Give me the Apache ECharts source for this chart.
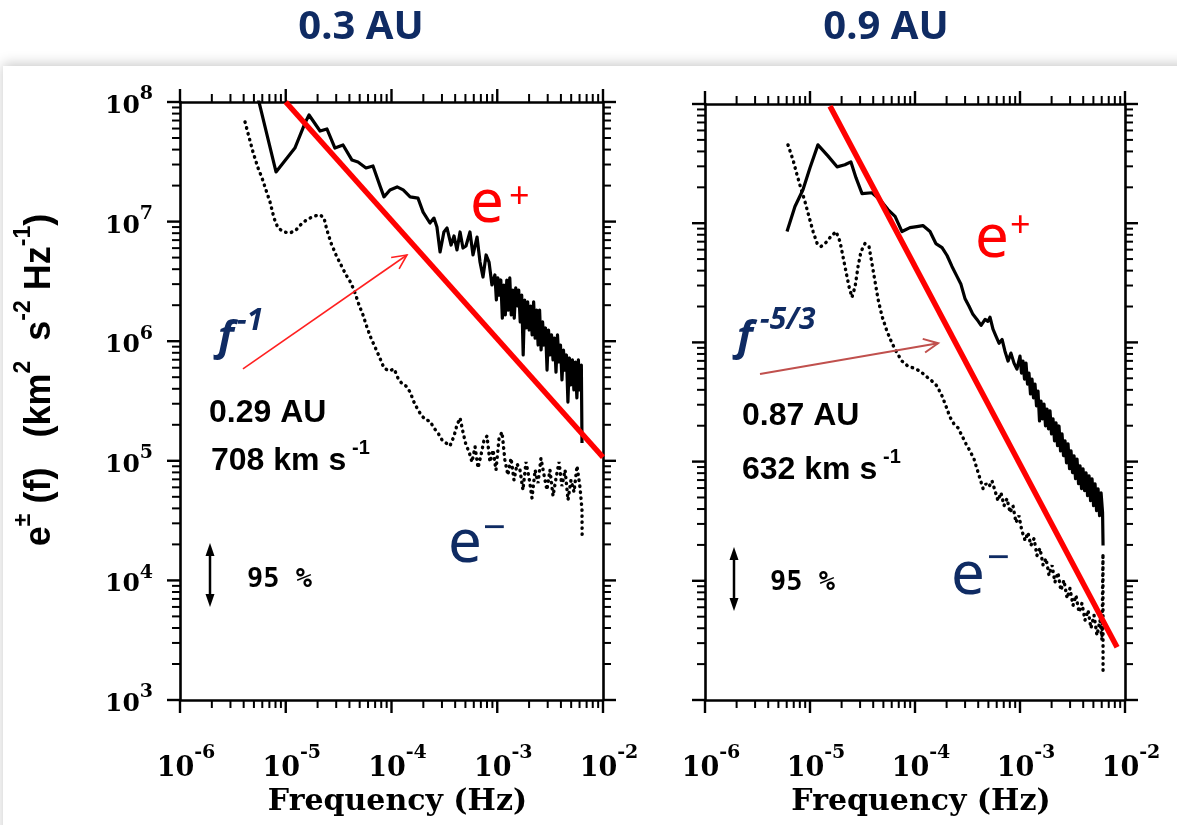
<!DOCTYPE html>
<html>
<head>
<meta charset="utf-8">
<script src="https://cdn.jsdelivr.net/npm/echarts@6/dist/echarts.min.js"></script>
<style>
html,body{margin:0;padding:0;background:#fff;}
#chart{width:1177px;height:825px;}
</style>
</head>
<body>
<div id="chart"></div>
<script>
// ---------------- DATA ----------------
const panelTitles = ['0.3 AU', '0.9 AU'];
const xMajorTicks = [1e-6, 1e-5, 1e-4, 1e-3, 1e-2];
const yMajorTicks = [1e3, 1e4, 1e5, 1e6, 1e7, 1e8];
const minorMultipliers = [2, 3, 4, 5, 6, 7, 8, 9];

// 0.3 AU panel: e+ (solid) and e- (dotted) spectra [frequency Hz, power]
const leftEPlus = [
[5.47e-6,1.08e8],[8.09e-6,2.60e7],[1.22e-5,4.12e7],[1.52e-5,6.67e7],[1.66e-5,7.79e7],[2.11e-5,5.72e7],
[2.45e-5,5.95e7],[2.92e-5,4.12e7],[3.48e-5,4.37e7],[4.23e-5,3.27e7],[4.82e-5,3.15e7],[5.74e-5,2.81e7],
[6.68e-5,2.92e7],[7.78e-5,1.99e7],[8.49e-5,1.61e7],[9.68e-5,1.84e7],[1.13e-4,1.95e7],[1.29e-4,1.84e7],
[1.50e-4,1.61e7],[1.78e-4,1.57e7],[1.99e-4,1.20e7],[2.31e-4,9.73e6],[2.52e-4,1.07e7],[2.69e-4,9.02e6],
[2.88e-4,5.57e6],[3.13e-4,8.19e6],[3.35e-4,8.84e6],[3.66e-4,6.37e6],[3.90e-4,7.59e6],[4.16e-4,5.79e6],
[4.45e-4,8.19e6],[4.74e-4,6.01e6],[5.06e-4,6.25e6],[5.52e-4,8.19e6],[5.90e-4,5.26e6],[6.44e-4,7.43e6],
[6.87e-4,4.59e6],[7.33e-4,3.44e6],[7.84e-4,5.26e6],[8.36e-4,4.59e6],[8.91e-4,2.95e6],
[9.50e-4,3.58e6],[9.81e-4,2.21e6],[1.013e-3,3.38e6],[1.047e-3,2.43e6],[1.081e-3,3.25e6],[1.117e-3,1.56e6],
[1.154e-3,2.95e6],[1.192e-3,1.66e6],[1.231e-3,3.25e6],[1.272e-3,1.82e6],[1.314e-3,3.38e6],[1.357e-3,1.66e6],
[1.402e-3,2.68e6],[1.448e-3,1.56e6],[1.496e-3,2.79e6],[1.545e-3,1.97e6],[1.596e-3,2.68e6],[1.649e-3,1.45e6],
[1.703e-3,2.43e6],[1.759e-3,7.67e5],[1.817e-3,2.21e6],[1.877e-3,1.29e6],[1.939e-3,2.13e6],[2.003e-3,1.24e6],
[2.069e-3,1.97e6],[2.137e-3,1.13e6],[2.208e-3,2.13e6],[2.281e-3,1.06e6],[2.356e-3,1.82e6],[2.434e-3,9.29e5],
[2.514e-3,1.82e6],[2.597e-3,8.44e5],[2.683e-3,1.45e6],[2.771e-3,9.29e5],[2.863e-3,1.29e6],[2.957e-3,5.74e5],
[3.055e-3,1.24e6],[3.156e-3,7.67e5],[3.260e-3,1.13e6],[3.367e-3,6.97e5],[3.478e-3,1.06e6],[3.593e-3,5.52e5],
[3.712e-3,1.13e6],[3.834e-3,6.70e5],[3.961e-3,9.29e5],[4.092e-3,4.74e5],[4.227e-3,8.44e5],[4.366e-3,5.74e5],
[4.510e-3,7.67e5],[4.659e-3,3.10e5],[4.813e-3,7.24e5],[4.972e-3,4.31e5],[5.136e-3,6.97e5],[5.305e-3,3.91e5],
[5.480e-3,6.70e5],[5.661e-3,3.35e5],[5.848e-3,6.97e5],[6.041e-3,3.91e5],[6.240e-3,6.32e5],[6.33e-3,1.41e5]
];
const leftEMinus = [
[4.12e-6,6.81e7],[4.49e-6,5.10e7],[4.90e-6,3.82e7],[5.47e-6,2.81e7],[5.96e-6,2.32e7],[6.50e-6,1.84e7],
[7.10e-6,1.46e7],[7.74e-6,1.07e7],[8.45e-6,8.84e6],[9.62e-6,8.19e6],[1.10e-5,8.03e6],[1.25e-5,8.51e6],
[1.43e-5,9.73e6],[1.62e-5,1.05e7],[1.85e-5,1.11e7],[2.11e-5,1.14e7],[2.30e-5,1.07e7],[2.45e-5,8.51e6],
[2.68e-5,6.62e6],[2.99e-5,5.26e6],[3.33e-5,4.34e6],[3.72e-5,3.58e6],[4.14e-5,3.07e6],[4.52e-5,2.53e6],
[4.93e-5,2.01e6],[5.37e-5,1.66e6],[5.86e-5,1.31e6],[6.40e-5,1.06e6],[6.98e-5,8.95e5],[7.62e-5,7.52e5],
[8.49e-5,5.97e5],[9.46e-5,5.64e5],[1.06e-4,5.86e5],[1.15e-4,4.92e5],[1.26e-4,4.39e5],[1.37e-4,4.22e5],
[1.50e-4,3.76e5],[1.63e-4,3.10e5],[1.78e-4,2.66e5],[1.94e-4,2.37e5],[2.12e-4,2.19e5],[2.31e-4,2.15e5],
[2.52e-4,1.88e5],[2.75e-4,1.71e5],[3.01e-4,1.49e5],[3.27e-4,1.41e5],[3.57e-4,1.33e5],[3.90e-4,1.61e5],
[4.16e-4,1.99e5],[4.45e-4,2.28e5],[4.74e-4,1.74e5],[5.06e-4,1.36e5],[5.41e-4,1.19e5],[5.77e-4,9.77e4],
[6.17e-4,1.31e5],[6.58e-4,8.71e4],[7.02e-4,1.12e5],[7.50e-4,1.49e5],[8.00e-4,1.61e5],[8.53e-4,9.77e4],
[9.12e-4,1.23e5],[9.73e-4,8.38e4],[1.04e-3,1.55e5],[1.11e-3,1.74e5],[1.18e-3,1.02e5],[1.26e-3,7.60e4],
[1.35e-3,1.05e5],[1.44e-3,6.90e4],[1.54e-3,9.40e4],[1.64e-3,8.38e4],[1.75e-3,5.70e4],[1.87e-3,9.77e4],
[2.00e-3,7.18e4],[2.13e-3,4.89e4],[2.28e-3,8.38e4],[2.43e-3,6.52e4],[2.59e-3,1.05e5],[2.77e-3,7.60e4],
[2.95e-3,5.70e4],[3.15e-3,8.38e4],[3.37e-3,5.08e4],[3.60e-3,7.18e4],[3.84e-3,9.77e4],[4.09e-3,6.15e4],
[4.38e-3,8.38e4],[4.67e-3,4.70e4],[4.98e-3,6.90e4],[5.32e-3,5.48e4],[5.68e-3,9.06e4],[6.07e-3,5.93e4],
[6.33e-3,3.88e4],[6.35e-3,2.31e4]
];
// 0.9 AU panel
const rightEPlus = [
[6.04e-6,8.51e6],[7.19e-6,1.38e7],[8.57e-6,1.91e7],[1.00e-5,2.92e7],[1.19e-5,4.54e7],[1.48e-5,3.67e7],
[1.81e-5,2.97e7],[2.15e-5,3.09e7],[2.45e-5,3.27e7],[2.74e-5,2.41e7],[3.13e-5,1.77e7],[3.89e-5,1.80e7],
[4.65e-5,1.57e7],[5.53e-5,1.30e7],[6.46e-5,1.14e7],[7.52e-5,8.51e6],[8.95e-5,9.19e6],[1.04e-4,9.37e6],
[1.19e-4,9.55e6],[1.39e-4,8.51e6],[1.58e-4,6.75e6],[1.81e-4,6.25e6],[2.02e-4,5.36e6],[2.25e-4,4.34e6],
[2.51e-4,3.58e6],[2.74e-4,3.07e6],[2.99e-4,2.34e6],[3.27e-4,2.01e6],[3.56e-4,1.72e6],[3.89e-4,1.56e6],
[4.26e-4,1.39e6],[4.65e-4,1.56e6],[4.95e-4,1.50e6],[5.18e-4,1.63e6],[5.53e-4,1.29e6],[5.90e-4,1.13e6],
[6.31e-4,9.84e5],[6.75e-4,1.06e6],[7.19e-4,8.44e5],[7.69e-4,6.97e5],[8.20e-4,8.13e5],[8.77e-4,6.70e5],
[9.35e-4,5.97e5],
[1.000e-3,7.67e5],[1.034e-3,5.53e5],[1.068e-3,6.97e5],[1.104e-3,4.92e5],[1.141e-3,6.70e5],[1.179e-3,4.47e5],
[1.218e-3,5.53e5],[1.259e-3,3.69e5],[1.301e-3,4.92e5],[1.345e-3,3.42e5],[1.390e-3,4.47e5],[1.436e-3,2.93e5],
[1.484e-3,3.91e5],[1.534e-3,2.19e5],[1.585e-3,3.22e5],[1.638e-3,2.28e5],[1.693e-3,3.04e5],[1.750e-3,1.99e5],
[1.808e-3,2.76e5],[1.869e-3,1.88e5],[1.931e-3,2.66e5],[1.996e-3,1.71e5],[2.063e-3,2.28e5],[2.132e-3,1.49e5],
[2.203e-3,2.11e5],[2.277e-3,1.36e5],[2.353e-3,1.99e5],[2.432e-3,1.23e5],[2.513e-3,1.71e5],[2.597e-3,1.12e5],
[2.684e-3,1.49e5],[2.774e-3,9.77e4],[2.867e-3,1.41e5],[2.963e-3,8.71e4],[3.062e-3,1.23e5],[3.165e-3,8.06e4],
[3.271e-3,1.12e5],[3.380e-3,7.18e4],[3.493e-3,1.05e5],[3.610e-3,6.52e4],[3.731e-3,9.22e4],[3.856e-3,5.92e4],
[3.985e-3,8.71e4],[4.118e-3,5.70e4],[4.256e-3,8.06e4],[4.399e-3,5.18e4],[4.546e-3,7.61e4],[4.698e-3,4.70e4],
[4.855e-3,7.18e4],[5.018e-3,4.27e4],[5.186e-3,6.52e4],[5.360e-3,3.88e4],[5.539e-3,5.92e4],[5.725e-3,3.52e4],
[5.916e-3,5.48e4],[6.114e-3,3.73e4],[6.18e-3,1.98e4]
];
const rightEMinus = [
[6.17e-6,4.54e7],[6.89e-6,3.40e7],[7.52e-6,2.55e7],[8.20e-6,1.95e7],[8.95e-6,1.52e7],[9.77e-6,1.14e7],
[1.07e-5,8.51e6],[1.17e-5,6.75e6],[1.27e-5,6.37e6],[1.42e-5,6.89e6],[1.58e-5,7.73e6],[1.77e-5,8.51e6],
[1.93e-5,7.02e6],[2.06e-5,5.26e6],[2.20e-5,3.94e6],[2.35e-5,2.95e6],[2.51e-5,2.39e6],[2.69e-5,2.95e6],
[2.87e-5,4.34e6],[3.06e-5,5.79e6],[3.34e-5,6.75e6],[3.65e-5,6.37e6],[3.89e-5,4.59e6],[4.16e-5,3.25e6],
[4.45e-5,2.30e6],[4.85e-5,1.66e6],[5.41e-5,1.24e6],[6.04e-5,9.84e5],[6.75e-5,8.13e5],[7.52e-5,6.97e5],
[8.57e-5,6.32e5],[9.77e-5,6.08e5],[1.12e-4,5.74e5],[1.27e-4,5.21e5],[1.45e-4,4.74e5],[1.62e-4,4.31e5],
[1.81e-4,3.55e5],[1.97e-4,2.93e5],[2.15e-4,2.37e5],[2.35e-4,2.07e5],[2.57e-4,1.92e5],[2.81e-4,1.64e5],
[3.06e-4,1.41e5],[3.34e-4,1.23e5],[3.65e-4,1.05e5],[3.89e-4,8.71e4],[4.16e-4,7.18e4],[4.45e-4,5.93e4],
[4.74e-4,6.52e4],[5.07e-4,6.15e4],[5.41e-4,6.90e4],[5.78e-4,5.70e4],[6.17e-4,4.70e4],[6.59e-4,5.48e4],
[7.05e-4,4.27e4],[7.52e-4,4.89e4],[8.04e-4,3.73e4],[8.57e-4,4.27e4],[9.16e-4,3.08e4],[9.77e-4,3.52e4],
[1.04e-3,2.64e4],[1.12e-3,2.18e4],[1.19e-3,2.54e4],[1.27e-3,1.98e4],[1.36e-3,2.26e4],[1.45e-3,1.63e4],
[1.55e-3,1.87e4],[1.66e-3,1.35e4],[1.77e-3,1.54e4],[1.89e-3,1.11e4],[2.02e-3,1.35e4],[2.15e-3,9.70e3],
[2.30e-3,1.17e4],[2.45e-3,8.32e3],[2.62e-3,1.01e4],[2.81e-3,7.13e3],[2.99e-3,8.63e3],[3.20e-3,6.22e3],
[3.41e-3,7.55e3],[3.65e-3,5.45e3],[3.89e-3,6.47e3],[4.16e-3,4.67e3],[4.45e-3,5.66e3],[4.74e-3,4.00e3],
[5.07e-3,5.14e3],[5.41e-3,3.49e3],[5.78e-3,4.67e3],[6.04e-3,3.18e3],[6.17e-3,1.69e4],[6.18e-3,1.68e3]
];
// reference power laws (red)
const leftFitLine = [[1e-5, 1.0e8], [1e-2, 1.07e5]];     // f^-1
const rightFitLine = [[1.55e-5, 9.6e7], [8.4e-3, 2.77e3]]; // f^-5/3
// pointer arrows [f1, v1, f2, v2]
const leftArrow = [[3.94e-6, 5.86e5, 1.40e-4, 5.26e6]];
const rightArrow = [[3.34e-6, 5.42e5, 1.66e-4, 9.84e5]];

// ---------------- CHART ----------------
const chart = echarts.init(document.getElementById('chart'));
const grids = [
  {left: 180, top: 102, width: 423, height: 598},
  {left: 705, top: 104, width: 420, height: 596}
];
function minorsOf(majors) {
  const out = [];
  for (let i = 0; i < majors.length - 1; i++) {
    minorMultipliers.forEach(m => out.push(m * majors[i]));
  }
  return out;
}
const xMinorTicks = minorsOf(xMajorTicks);
const yMinorTicks = minorsOf(yMajorTicks);
const expFmt = v => '{b|10}{s|' + Math.round(Math.log10(v)) + '}';
const AX = '#000';

function makeAxis(dim, g, pos, withLabel, name) {
  const isX = dim === 'x';
  const majors = isX ? xMajorTicks : yMajorTicks;
  const ax = {
    type: 'log', logBase: 10, gridIndex: g, position: pos,
    min: majors[0], max: majors[majors.length - 1], interval: 1,
    splitLine: {show: false}, minorTick: {show: false}, minorSplitLine: {show: false},
    axisLine: {show: true, onZero: false, lineStyle: {color: AX, width: 2.6}},
    axisTick: {show: false},
    axisLabel: withLabel ? {
      show: true, formatter: expFmt, showMinLabel: true, showMaxLabel: true,
      margin: isX ? 44 : 27,
      rich: isX ? {
        b: {fontFamily: 'DejaVu Serif', fontWeight: 'bold', fontSize: 27, color: '#000', verticalAlign: 'bottom', lineHeight: 38, padding: [0, 0, 0, 12]},
        s: {fontFamily: 'DejaVu Serif', fontWeight: 'bold', fontSize: 19, color: '#000', verticalAlign: 'top', lineHeight: 20}
      } : {
        b: {fontFamily: 'DejaVu Serif', fontWeight: 'bold', fontSize: 25, color: '#000', verticalAlign: 'bottom', lineHeight: 34},
        s: {fontFamily: 'DejaVu Serif', fontWeight: 'bold', fontSize: 19, color: '#000', verticalAlign: 'top', lineHeight: 19}
      }
    } : {show: false}
  };
  if (name) {
    ax.name = name;
    ax.nameLocation = 'middle';
    ax.nameGap = 82;
    ax.nameTextStyle = {fontFamily: 'DejaVu Serif', fontWeight: 'bold', fontSize: 30, color: '#000', padding: [0, 0, 0, 12]};
  }
  return ax;
}

const xAxes = [], yAxes = [];
[0, 1].forEach(g => {
  xAxes.push(makeAxis('x', g, 'bottom', true, 'Frequency (Hz)'));
  xAxes.push(makeAxis('x', g, 'top', false));
  yAxes.push(makeAxis('y', g, 'left', g === 0));
  yAxes.push(makeAxis('y', g, 'right', false));
});

// Outward frame ticks drawn as thin rect symbols sitting on the frame edges (positioned by the log scales)
function tickSeriesFor(g) {
  const out = [];
  const xLo = xMajorTicks[0], xHi = xMajorTicks[xMajorTicks.length - 1];
  const yLo = yMajorTicks[0], yHi = yMajorTicks[yMajorTicks.length - 1];
  const specs = [
    {vals: xMajorTicks, len: 13, w: 2.4}, {vals: xMinorTicks, len: 8, w: 2}
  ];
  const yspecs = [
    {vals: yMajorTicks, len: 13, w: 2.4}, {vals: yMinorTicks, len: 8, w: 2}
  ];
  const mk = (data, size, offset) => ({
    type: 'scatter', xAxisIndex: g * 2, yAxisIndex: g * 2, data: data, symbol: 'rect',
    symbolSize: size, symbolOffset: offset, clip: false, silent: true, z: 4,
    itemStyle: {color: '#000', opacity: 1}, emphasis: {disabled: true}
  });
  specs.forEach(s => {
    out.push(mk(s.vals.map(v => [v, yHi]), [s.w, s.len], [0, -s.len / 2]));
    out.push(mk(s.vals.map(v => [v, yLo]), [s.w, s.len], [0, s.len / 2]));
  });
  yspecs.forEach(s => {
    out.push(mk(s.vals.map(v => [xLo, v]), [s.len, s.w], [-s.len / 2, 0]));
    out.push(mk(s.vals.map(v => [xHi, v]), [s.len, s.w], [s.len / 2, 0]));
  });
  return out;
}

function arrowRender(color, width, head) {
  return function (params, api) {
    const p1 = api.coord([api.value(0), api.value(1)]);
    const p2 = api.coord([api.value(2), api.value(3)]);
    const a = Math.atan2(p2[1] - p1[1], p2[0] - p1[0]);
    const h1 = [p2[0] - head * Math.cos(a - 0.45), p2[1] - head * Math.sin(a - 0.45)];
    const h2 = [p2[0] - head * Math.cos(a + 0.45), p2[1] - head * Math.sin(a + 0.45)];
    return {
      type: 'group',
      children: [
        {type: 'line', shape: {x1: p1[0], y1: p1[1], x2: p2[0], y2: p2[1]}, style: {stroke: color, lineWidth: width}},
        {type: 'polyline', shape: {points: [h1, p2, h2]}, style: {stroke: color, lineWidth: width, fill: null}}
      ]
    };
  };
}

function specSeries(data, g, dotted) {
  return {
    type: 'line', xAxisIndex: g * 2, yAxisIndex: g * 2, data: data,
    showSymbol: false, symbol: 'none', clip: true, z: 3,
    lineStyle: dotted ? {color: '#000', width: 3.4, type: [0.5, 5.5], cap: 'round'}
                      : {color: '#000', width: 3.2, join: 'round'}
  };
}
function fitSeries(data, g) {
  return {type: 'line', xAxisIndex: g * 2, yAxisIndex: g * 2, data: data, showSymbol: false, symbol: 'none',
    clip: true, z: 5, lineStyle: {color: '#ff0000', width: 5.5}};
}
function arrowSeries(data, g, color, width) {
  return {type: 'custom', xAxisIndex: g * 2, yAxisIndex: g * 2, data: data, z: 6, clip: false,
    encode: {x: [0, 2], y: [1, 3]}, renderItem: arrowRender(color, width, 16)};
}

const NAVY = '#0f2b63';
function txt(x, y, text, font, color, align, extra) {
  return Object.assign({type: 'text', x: x, y: y, z: 20,
    style: Object.assign({text: text, fill: color || '#000', align: align || 'left', verticalAlign: 'middle'}, font)}, extra || {});
}
const F = (size, family, weight, style) => ({fontSize: size, fontFamily: family, fontWeight: weight || 'normal', fontStyle: style || 'normal'});

function doubleArrow(x, y1, y2) {
  return [
    {type: 'line', z: 20, shape: {x1: x, y1: y1 + 6, x2: x, y2: y2 - 6}, style: {stroke: '#000', lineWidth: 2.5}},
    {type: 'polygon', z: 20, shape: {points: [[x, y1], [x - 4.5, y1 + 13], [x + 4.5, y1 + 13]]}, style: {fill: '#000'}},
    {type: 'polygon', z: 20, shape: {points: [[x, y2], [x - 4.5, y2 - 13], [x + 4.5, y2 - 13]]}, style: {fill: '#000'}}
  ];
}

const graphics = [
  {type: 'rect', z: -10, silent: true, shape: {x: 3, y: 66, width: 1200, height: 800},
   style: {fill: '#ffffff', shadowBlur: 12, shadowColor: 'rgba(0,0,0,0.22)', shadowOffsetY: -2}},
  txt(361, 28, panelTitles[0], F(40, 'Noto Sans', 'bold'), NAVY, 'center'),
  txt(886, 28, panelTitles[1], F(40, 'Noto Sans', 'bold'), NAVY, 'center'),
  // y axis title
  {type: 'text', x: 35, y: 380, rotation: Math.PI / 2, z: 20,
   style: {text: '{m|e}{s|±}{m| (f)   (km}{s|2}{m|  s}{s|-2}{m| Hz}{s|-1}{m|)}', align: 'center', verticalAlign: 'middle',
     rich: {
       m: {fontFamily: 'Liberation Sans', fontWeight: 'bold', fontSize: 36, fill: '#000', verticalAlign: 'bottom', lineHeight: 46},
       s: {fontFamily: 'Liberation Sans', fontWeight: 'bold', fontSize: 23, fill: '#000', verticalAlign: 'top', lineHeight: 22}
     }}},
  // left panel annotations
  txt(470, 205, 'e', F(60, 'Noto Sans'), '#ff0000'),
  txt(509, 198, '+', F(36, 'Noto Sans'), '#ff0000'),
  txt(448, 545, 'e', F(60, 'Noto Sans'), NAVY),
  txt(483, 530, '−', F(40, 'Noto Sans'), NAVY),
  txt(218, 338, 'f', F(42, 'Noto Sans', 'bold', 'italic'), NAVY),
  txt(237, 321, '−1', F(30, 'Noto Sans', 'bold', 'italic'), NAVY),
  txt(209, 413, '0.29 AU', F(32, 'Liberation Sans', 'bold')),
  txt(211, 461, '708 km s', F(32, 'Liberation Sans', 'bold')),
  txt(352, 448, '-1', F(20, 'Liberation Sans', 'bold')),
  txt(247, 580, '95 %', F(27, 'DejaVu Sans Mono', 'bold')),
  // right panel annotations
  txt(975, 240, 'e', F(60, 'Noto Sans'), '#ff0000'),
  txt(1010, 227, '+', F(36, 'Noto Sans'), '#ff0000'),
  txt(951, 577, 'e', F(60, 'Noto Sans'), NAVY),
  txt(987, 560, '−', F(40, 'Noto Sans'), NAVY),
  txt(737, 338, 'f', F(42, 'Noto Sans', 'bold', 'italic'), NAVY),
  txt(760, 320, '−5/3', F(30, 'Noto Sans', 'bold', 'italic'), NAVY),
  txt(742, 416, '0.87 AU', F(32, 'Liberation Sans', 'bold')),
  txt(742, 470, '632 km s', F(32, 'Liberation Sans', 'bold')),
  txt(883, 457, '-1', F(20, 'Liberation Sans', 'bold')),
  txt(770, 583, '95 %', F(27, 'DejaVu Sans Mono', 'bold'))
].concat(doubleArrow(210, 543, 607), doubleArrow(734, 547, 611));

chart.setOption({
  animation: false,
  backgroundColor: '#ffffff',
  grid: grids,
  xAxis: xAxes,
  yAxis: yAxes,
  graphic: graphics,
  series: tickSeriesFor(0).concat(tickSeriesFor(1), [
    specSeries(leftEPlus, 0, false),
    specSeries(leftEMinus, 0, true),
    fitSeries(leftFitLine, 0),
    arrowSeries(leftArrow, 0, '#ff2020', 1.6),
    specSeries(rightEPlus, 1, false),
    specSeries(rightEMinus, 1, true),
    fitSeries(rightFitLine, 1),
    arrowSeries(rightArrow, 1, '#c0504d', 2)
  ])
});
</script>
</body>
</html>
